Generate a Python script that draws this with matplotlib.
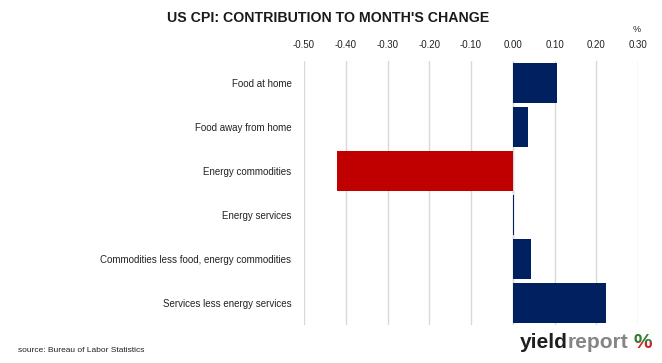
import matplotlib
matplotlib.use("Agg")
import matplotlib.pyplot as plt
from matplotlib.transforms import Bbox
import numpy as np

categories = ["Food at home", "Food away from home", "Energy commodities",
              "Energy services", "Commodities less food, energy commodities",
              "Services less energy services"]
values = [0.107, 0.036, -0.422, 0.003, 0.044, 0.224]
xticks = [-0.50, -0.40, -0.30, -0.20, -0.10, 0.00, 0.10, 0.20, 0.30]

plt.rcParams['font.family'] = ['Liberation Sans', 'DejaVu Sans']

fig = plt.figure(figsize=(6.62, 3.63), dpi=100)
ax = fig.add_axes([304/662, 1 - 325/363, (638 - 304)/662, (325 - 61)/363])

colors = ["#C00000" if v < 0 else "#002060" for v in values]
y = np.arange(len(categories))
ax.barh(y, values, height=0.9, color=colors, zorder=3)
ax.set_ylim(len(categories) - 0.5, -0.5)
ax.set_xlim(-0.5, 0.3)

ax.set_xticks(xticks)
ax.set_xticklabels([f"{t:.2f}" for t in xticks], fontsize=7, color="#222222")
ax.xaxis.tick_top()
ax.tick_params(axis='x', length=0, pad=8)
ax.set_yticks(y)
ax.set_yticklabels(categories, fontsize=7, color="#222222")
ax.tick_params(axis='y', length=0, pad=9)
for lab in ax.get_yticklabels():
    lab.set_y(lab.get_position()[1])
    lab.set_va('center_baseline')

for s in ax.spines.values():
    s.set_visible(False)
ax.grid(axis='x', color="#d9d9d9", linewidth=1, zorder=0)
ax.axvline(0, color="#d9d9d9", linewidth=1, zorder=1)

fig.text(328/662, 1 - 18/363, "US CPI: CONTRIBUTION TO MONTH'S CHANGE",
         ha='center', va='center', fontsize=10.2, fontweight='bold', color="#1a1a1a")
fig.text(637/662, 1 - 30/363, "%", ha='center', va='center', fontsize=6.5, color="#222222")
fig.text(18/662, 1 - 350/363, "source: Bureau of Labor Statistics",
         ha='left', va='center', fontsize=6, color="#222222")

# logo
ly = 1 - 342/363
t1 = fig.text(520/662, ly, "yield", ha='left', va='center', fontsize=15,
              fontweight='bold', color="#1f1f1f")
fig.canvas.draw()
bb = t1.get_window_extent()
t2 = fig.text(bb.x1/662, ly, "report", ha='left', va='center', fontsize=15,
              fontweight='bold', color="#858585")
fig.canvas.draw()
bb2 = t2.get_window_extent()
px = bb2.x1/662 + 5/662
tg = fig.text(px, ly, "%", ha='left', va='center', fontsize=15,
              fontweight='bold', color="#2e7d32")
tr = fig.text(px, ly, "%", ha='left', va='center', fontsize=15,
              fontweight='bold', color="#c62828")
fig.canvas.draw()
pb = tg.get_window_extent()
mid = (pb.y0 + pb.y1) / 2
tg.set_clip_box(Bbox([[pb.x0 - 2, mid], [pb.x1 + 2, pb.y1 + 2]]))
tg.set_clip_on(True)
tr.set_clip_box(Bbox([[pb.x0 - 2, pb.y0 - 2], [pb.x1 + 2, mid]]))
tr.set_clip_on(True)

fig.savefig("out.png", dpi=100)
